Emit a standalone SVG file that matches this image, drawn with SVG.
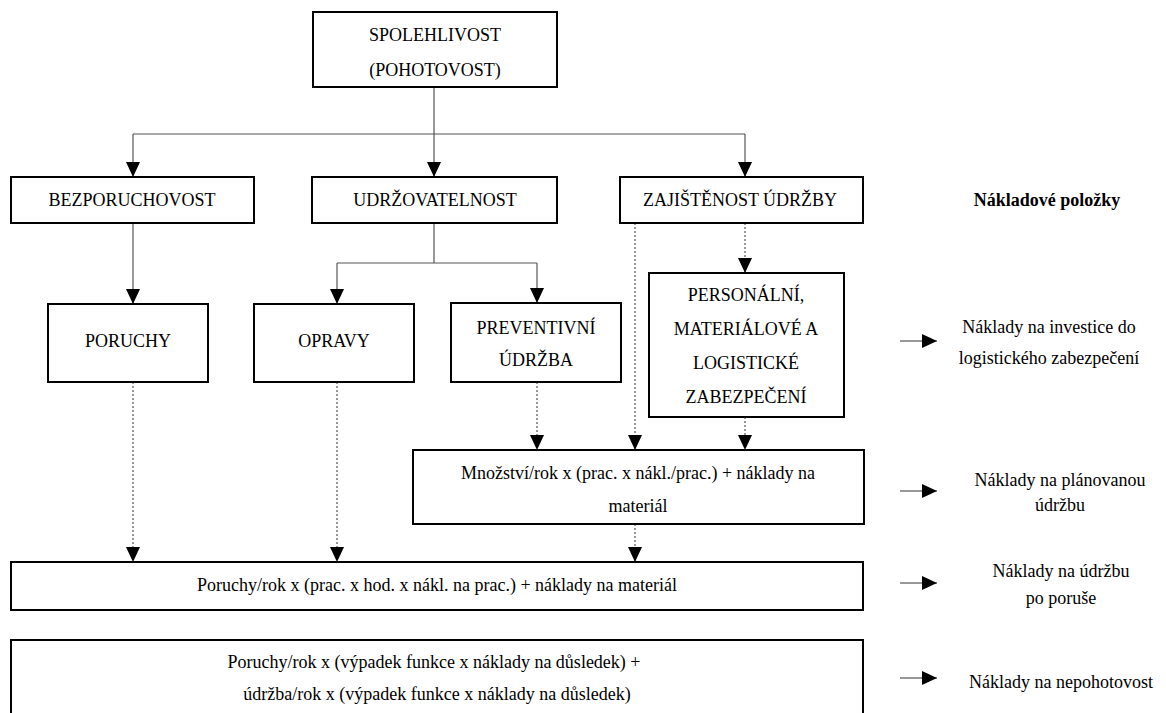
<svg xmlns="http://www.w3.org/2000/svg" width="1166" height="713" viewBox="0 0 1166 713">
<style>
  rect.box { fill: #fff; stroke: #000; stroke-width: 2; }
  text { font-family: "Liberation Serif", "Times New Roman", serif; font-size: 18px; fill: #000; }
  text.c { text-anchor: middle; }
  text.b { font-weight: bold; }
  .solid { stroke: #555; stroke-width: 1.2; fill: none; }
  .dot { stroke: #555; stroke-width: 1.2; stroke-dasharray: 2 2; fill: none; }
  .side { stroke: #333; stroke-width: 1.2; fill: none; }
</style>
<defs>
  <marker id="ah" viewBox="0 0 15 14" refX="15" refY="7" markerWidth="15" markerHeight="14" markerUnits="userSpaceOnUse" orient="auto">
    <path d="M0,0 L15,7 L0,14 Z" fill="#000"/>
  </marker>
</defs>
<rect width="1166" height="713" fill="#fff"/>

<g id="connectors">
  <path class="solid" d="M434,87 V134"/>
  <path class="solid" d="M133,134 H745"/>
  <path class="solid" d="M133,134 V177" marker-end="url(#ah)"/>
  <path class="solid" d="M434,134 V177" marker-end="url(#ah)"/>
  <path class="solid" d="M745,134 V177" marker-end="url(#ah)"/>
  <path class="solid" d="M133,223 V304" marker-end="url(#ah)"/>
  <path class="solid" d="M434,223 V263 M337,263 H537"/>
  <path class="solid" d="M337,263 V304" marker-end="url(#ah)"/>
  <path class="solid" d="M537,263 V303" marker-end="url(#ah)"/>
  <path class="dot" d="M745,223 V273" marker-end="url(#ah)"/>
  <path class="dot" d="M635,223 V450" marker-end="url(#ah)"/>
  <path class="dot" d="M537,382 V450" marker-end="url(#ah)"/>
  <path class="dot" d="M745,417 V450" marker-end="url(#ah)"/>
  <path class="dot" d="M133,382 V562" marker-end="url(#ah)"/>
  <path class="dot" d="M337,382 V562" marker-end="url(#ah)"/>
  <path class="dot" d="M635,524 V562" marker-end="url(#ah)"/>
  <path class="side" d="M900,341 H937" marker-end="url(#ah)"/>
  <path class="side" d="M900,491 H937" marker-end="url(#ah)"/>
  <path class="side" d="M900,583 H937" marker-end="url(#ah)"/>
  <path class="side" d="M900,678 H937" marker-end="url(#ah)"/>
</g>

<g id="spolehlivost">
  <rect class="box" x="313" y="12" width="244" height="75"/>
  <text class="c" x="435" y="41">SPOLEHLIVOST</text>
  <text class="c" x="435" y="76">(POHOTOVOST)</text>
</g>
<g id="bezporuchovost">
  <rect class="box" x="11" y="177" width="243" height="46"/>
  <text class="c" x="132" y="206">BEZPORUCHOVOST</text>
</g>
<g id="udrzovatelnost">
  <rect class="box" x="312" y="177" width="245" height="46"/>
  <text class="c" x="435" y="206">UDRŽOVATELNOST</text>
</g>
<g id="zajistenost">
  <rect class="box" x="620" y="177" width="243" height="46"/>
  <text class="c" x="740" y="206">ZAJIŠTĚNOST ÚDRŽBY</text>
</g>
<g id="nakladove-polozky">
  <text class="c b" x="1047" y="206">Nákladové položky</text>
</g>
<g id="poruchy">
  <rect class="box" x="48" y="304" width="160" height="78"/>
  <text class="c" x="128" y="347">PORUCHY</text>
</g>
<g id="opravy">
  <rect class="box" x="254" y="304" width="160" height="78"/>
  <text class="c" x="334" y="347">OPRAVY</text>
</g>
<g id="preventivni">
  <rect class="box" x="451" y="303" width="170" height="79"/>
  <text class="c" x="536" y="334">PREVENTIVNÍ</text>
  <text class="c" x="536" y="366">ÚDRŽBA</text>
</g>
<g id="personalni">
  <rect class="box" x="649" y="273" width="195" height="144"/>
  <text class="c" x="746" y="301">PERSONÁLNÍ,</text>
  <text class="c" x="746" y="335">MATERIÁLOVÉ A</text>
  <text class="c" x="746" y="369">LOGISTICKÉ</text>
  <text class="c" x="746" y="403">ZABEZPEČENÍ</text>
</g>
<g id="mnozstvi">
  <rect class="box" x="413" y="450" width="451" height="74"/>
  <text class="c" x="638" y="479">Množství/rok x (prac. x nákl./prac.) + náklady na</text>
  <text class="c" x="638" y="512">materiál</text>
</g>
<g id="poruchy-rok">
  <rect class="box" x="11" y="562" width="852" height="48"/>
  <text class="c" x="437" y="591">Poruchy/rok x (prac. x hod. x nákl. na prac.) + náklady na materiál</text>
</g>
<g id="nepohotovost-box">
  <rect class="box" x="11" y="640" width="852" height="90"/>
  <text class="c" x="434" y="668">Poruchy/rok x (výpadek funkce x náklady na důsledek) +</text>
  <text class="c" x="437" y="700">údržba/rok x (výpadek funkce x náklady na důsledek)</text>
</g>
<g id="label-investice">
  <text class="c" x="1049" y="333">Náklady na investice do</text>
  <text class="c" x="1049" y="364">logistického zabezpečení</text>
</g>
<g id="label-planovana">
  <text class="c" x="1060" y="486">Náklady na plánovanou</text>
  <text class="c" x="1060" y="511">údržbu</text>
</g>
<g id="label-porucha">
  <text class="c" x="1061" y="577">Náklady na údržbu</text>
  <text class="c" x="1061" y="604">po poruše</text>
</g>
<g id="label-nepohotovost">
  <text class="c" x="1061" y="688">Náklady na nepohotovost</text>
</g>
</svg>
